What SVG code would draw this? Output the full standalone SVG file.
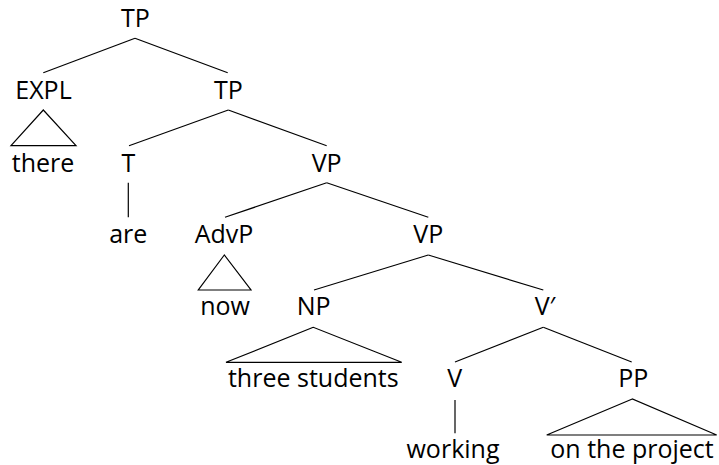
<svg xmlns="http://www.w3.org/2000/svg" width="719" height="465" viewBox="0 0 719 465">
<style>
text{font-family:"Open Sans","Liberation Sans",sans-serif;font-size:25px;fill:#000;text-anchor:middle}
.e{stroke:#000;stroke-width:1.2;fill:none;stroke-linejoin:miter}
</style>
<rect width="719" height="465" fill="#fff"/>
<g id="connectors">
<line class="e" x1="135" y1="38.3" x2="43.3" y2="72.7"/>
<line class="e" x1="135" y1="38.3" x2="227.7" y2="72.7"/>
<polygon class="e" points="43.3,110 11,145.7 76,145.7"/>
<line class="e" x1="228.3" y1="110" x2="129" y2="145.7"/>
<line class="e" x1="228.3" y1="110" x2="326.7" y2="145.7"/>
<line class="e" x1="128.3" y1="182.7" x2="128.3" y2="217.3"/>
<line class="e" x1="326.7" y1="182.7" x2="225" y2="217.3"/>
<line class="e" x1="326.7" y1="182.7" x2="428.3" y2="217.3"/>
<polygon class="e" points="224.3,255 198.3,290 251,290"/>
<line class="e" x1="428.3" y1="255" x2="314" y2="290"/>
<line class="e" x1="428.3" y1="255" x2="543.3" y2="290"/>
<polygon class="e" points="313.3,327.3 226,362.3 401.7,362.3"/>
<line class="e" x1="543.3" y1="327.3" x2="455" y2="362"/>
<line class="e" x1="543.3" y1="327.3" x2="631.7" y2="362"/>
<line class="e" x1="455" y1="400" x2="455" y2="433.3"/>
<polygon class="e" points="632.3,399 546.7,435 716.7,435"/>
</g>
<g id="n-tp0"><text x="135.5" y="26.7">TP</text></g>
<g id="n-expl"><text x="43.5" y="98.7">EXPL</text></g>
<g id="n-tp1"><text x="228.3" y="98.7">TP</text></g>
<g id="n-there"><text x="43" y="171.7">there</text></g>
<g id="n-t"><text x="128.3" y="171.7">T</text></g>
<g id="n-vp0"><text x="326.7" y="171.7">VP</text></g>
<g id="n-are"><text x="128.3" y="243.3">are</text></g>
<g id="n-advp"><text x="224" y="243.3">AdvP</text></g>
<g id="n-vp1"><text x="428.3" y="243.3">VP</text></g>
<g id="n-now"><text x="225" y="315">now</text></g>
<g id="n-np"><text x="313.7" y="315">NP</text></g>
<g id="n-vbar"><text x="545" y="315">V′</text></g>
<g id="n-three"><text x="313.3" y="387.3">three students</text></g>
<g id="n-v"><text x="454.7" y="387.3">V</text></g>
<g id="n-pp"><text x="633.3" y="387.3">PP</text></g>
<g id="n-working"><text x="453" y="458.3">working</text></g>
<g id="n-project"><text x="632" y="458.3">on the project</text></g>
</svg>
